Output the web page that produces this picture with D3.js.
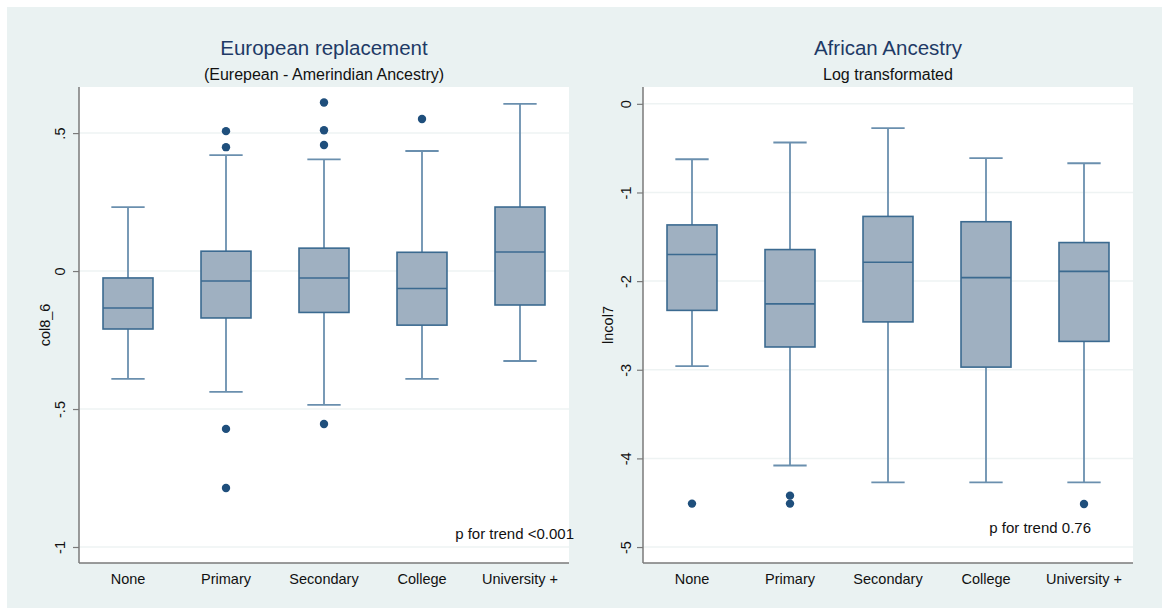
<!DOCTYPE html>
<html>
<head>
<meta charset="utf-8">
<script src="https://cdn.jsdelivr.net/npm/d3@7"></script>
<style>
  html, body { margin: 0; padding: 0; background: #ffffff; }
  svg { display: block; font-family: "Liberation Sans", Arial, Helvetica, sans-serif; }
</style>
</head>
<body>
<svg id="chart" width="1162" height="614"></svg>
<script>
// ---------- DATA ----------
const categories = ["None", "Primary", "Secondary", "College", "University +"];

// Left panel: European replacement (col8_6)
const euroLowerWhisker = [-0.391, -0.438, -0.485, -0.391, -0.326];
const euroQ1           = [-0.210, -0.170, -0.150, -0.196, -0.123];
const euroMedian       = [-0.134, -0.036, -0.025, -0.063,  0.069];
const euroQ3           = [-0.025,  0.072,  0.083,  0.068,  0.232];
const euroUpperWhisker = [ 0.232,  0.420,  0.405,  0.435,  0.606];
const euroOutliers     = [[], [0.507, 0.449, -0.572, -0.786], [0.611, 0.510, 0.457, -0.554], [0.551], []];
const euroTicks        = [-1, -0.5, 0, 0.5];
const euroTickLabels   = ["-1", "-.5", "0", ".5"];

// Right panel: African Ancestry, log transformed (lncol7)
const afrLowerWhisker = [-2.96, -4.08, -4.27, -4.27, -4.27];
const afrQ1           = [-2.33, -2.743, -2.46, -2.97, -2.68];
const afrMedian       = [-1.70, -2.257, -1.787, -1.96, -1.89];
const afrQ3           = [-1.366, -1.644, -1.27, -1.33, -1.565];
const afrUpperWhisker = [-0.625, -0.436, -0.275, -0.613, -0.67];
const afrOutliers     = [[-4.51], [-4.42, -4.51], [], [], [-4.515]];
const afrTicks        = [-5, -4, -3, -2, -1, 0];
const afrTickLabels   = ["-5", "-4", "-3", "-2", "-1", "0"];

// ---------- DRAWING ----------
const svg = d3.select("#chart");

svg.append("rect").attr("x", 7).attr("y", 7).attr("width", 1155).attr("height", 601)
  .attr("fill", "#eaf2f2");

const C = {
  fill: "#9fb0c1",
  stroke: "#3b6a90",
  whisker: "#6a8fae",
  outlier: "#1f4f7c",
  grid: "#eef3f3",
  axis: "#7a7a7a",
  title: "#1e3a66"
};

function panel(cfg) {
  const { left, right, top, bottom, domain, ticks, tickLabels,
          lo, q1, med, q3, hi, outliers, title, subtitle, ytitle, ytitleX, tickLabelX,
          note, noteX, noteY } = cfg;
  const g = svg.append("g");

  const x = d3.scaleBand().domain(categories).range([left, right]).paddingInner(0).paddingOuter(0);
  const y = d3.scaleLinear().domain(domain).range([bottom, top]);

  g.append("rect").attr("x", left).attr("y", top).attr("width", right - left).attr("height", bottom - top)
    .attr("fill", "#ffffff");

  g.selectAll(".grid").data(ticks).join("line")
    .attr("x1", left).attr("x2", right)
    .attr("y1", d => y(d)).attr("y2", d => y(d))
    .attr("stroke", C.grid).attr("stroke-width", 1.5);

  const yAxis = d3.axisLeft(y).tickValues(ticks).tickSize(6)
    .tickFormat((d, i) => tickLabels[i]);
  const ya = g.append("g").attr("transform", `translate(${left},0)`).call(yAxis);
  ya.select(".domain").attr("stroke", C.axis).attr("stroke-width", 1.5)
    .attr("d", `M0,${top}V${bottom}`);
  ya.selectAll(".tick line").attr("stroke", C.axis).attr("stroke-width", 1.2);
  ya.selectAll(".tick text")
    .attr("font-size", 14.5).attr("fill", "#111")
    .attr("text-anchor", "middle")
    .attr("x", 0).attr("dy", 0)
    .attr("transform", `translate(${tickLabelX - left},0) rotate(-90) translate(0,5)`);

  const xAxis = d3.axisBottom(x).tickSize(0).tickPadding(7);
  const xa = g.append("g").attr("transform", `translate(0,${bottom})`).call(xAxis);
  xa.select(".domain").attr("stroke", C.axis).attr("stroke-width", 1.5)
    .attr("d", `M${left},0H${right}`);
  xa.selectAll(".tick text").attr("font-size", 14.5).attr("fill", "#111").attr("dy", "0.95em");

  const bw = x.bandwidth();
  const boxW = bw * 0.51;
  const capW = bw * 0.34;

  const items = categories.map((c, i) => ({ c, lo: lo[i], q1: q1[i], med: med[i], q3: q3[i], hi: hi[i], out: outliers[i] }));
  const bx = g.selectAll(".box").data(items).join("g");

  bx.append("line")
    .attr("x1", d => x(d.c) + bw / 2).attr("x2", d => x(d.c) + bw / 2)
    .attr("y1", d => y(d.q3)).attr("y2", d => y(d.hi))
    .attr("stroke", C.whisker).attr("stroke-width", 1.8);
  bx.append("line")
    .attr("x1", d => x(d.c) + bw / 2).attr("x2", d => x(d.c) + bw / 2)
    .attr("y1", d => y(d.q1)).attr("y2", d => y(d.lo))
    .attr("stroke", C.whisker).attr("stroke-width", 1.8);
  bx.append("line")
    .attr("x1", d => x(d.c) + bw / 2 - capW / 2).attr("x2", d => x(d.c) + bw / 2 + capW / 2)
    .attr("y1", d => y(d.hi)).attr("y2", d => y(d.hi))
    .attr("stroke", C.whisker).attr("stroke-width", 1.8);
  bx.append("line")
    .attr("x1", d => x(d.c) + bw / 2 - capW / 2).attr("x2", d => x(d.c) + bw / 2 + capW / 2)
    .attr("y1", d => y(d.lo)).attr("y2", d => y(d.lo))
    .attr("stroke", C.whisker).attr("stroke-width", 1.8);
  bx.append("rect")
    .attr("x", d => x(d.c) + bw / 2 - boxW / 2).attr("width", boxW)
    .attr("y", d => y(d.q3)).attr("height", d => y(d.q1) - y(d.q3))
    .attr("fill", C.fill).attr("stroke", C.stroke).attr("stroke-width", 1.6);
  bx.append("line")
    .attr("x1", d => x(d.c) + bw / 2 - boxW / 2).attr("x2", d => x(d.c) + bw / 2 + boxW / 2)
    .attr("y1", d => y(d.med)).attr("y2", d => y(d.med))
    .attr("stroke", C.stroke).attr("stroke-width", 1.6);
  bx.selectAll("circle").data(d => d.out.map(v => ({ c: d.c, v }))).join("circle")
    .attr("cx", d => x(d.c) + bw / 2).attr("cy", d => y(d.v)).attr("r", 4.2)
    .attr("fill", C.outlier);

  const cx = (left + right) / 2;
  g.append("text").attr("x", cx).attr("y", 55).attr("text-anchor", "middle")
    .attr("font-size", 20.5).attr("fill", C.title).text(title);
  g.append("text").attr("x", cx).attr("y", 80).attr("text-anchor", "middle")
    .attr("font-size", 16).attr("fill", "#111").text(subtitle);

  g.append("text").attr("transform", `translate(${ytitleX},${(top + bottom) / 2}) rotate(-90)`)
    .attr("text-anchor", "middle").attr("dy", "0.35em")
    .attr("font-size", 14.5).attr("fill", "#111").text(ytitle);

  g.append("text").attr("x", noteX).attr("y", noteY).attr("text-anchor", "end")
    .attr("font-size", 15).attr("fill", "#111").text(note);
}

panel({
  left: 79, right: 569, top: 87, bottom: 563,
  domain: [-1.058, 0.667], ticks: euroTicks, tickLabels: euroTickLabels,
  lo: euroLowerWhisker, q1: euroQ1, med: euroMedian, q3: euroQ3, hi: euroUpperWhisker, outliers: euroOutliers,
  title: "European replacement", subtitle: "(Eurepean - Amerindian Ancestry)",
  ytitle: "col8_6", ytitleX: 45, tickLabelX: 60,
  note: "p for trend <0.001", noteX: 574, noteY: 539
});

panel({
  left: 643, right: 1133, top: 87, bottom: 563,
  domain: [-5.18, 0.19], ticks: afrTicks, tickLabels: afrTickLabels,
  lo: afrLowerWhisker, q1: afrQ1, med: afrMedian, q3: afrQ3, hi: afrUpperWhisker, outliers: afrOutliers,
  title: "African Ancestry", subtitle: "Log transformated",
  ytitle: "lncol7", ytitleX: 608, tickLabelX: 626,
  note: "p for trend 0.76", noteX: 1091, noteY: 533
});
</script>
</body>
</html>
